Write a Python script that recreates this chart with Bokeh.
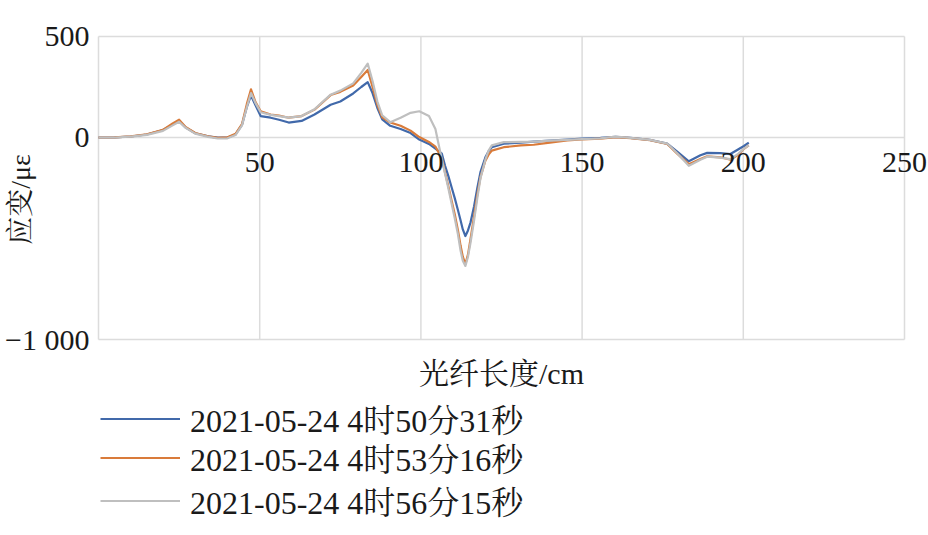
import math
from bokeh.plotting import figure
from bokeh.models import Range1d, Label, Legend, LegendItem
from bokeh.embed import file_html
from bokeh.resources import INLINE

# ---- data ----
x_cm = [0, 5, 10, 15, 20, 23, 25, 27, 30, 34, 37, 40, 42.5, 44.5, 46, 47.3, 48.7, 50.3,
        53.4, 56, 59, 63, 67, 72, 75, 79, 81.5, 83.5, 85, 86.5, 88, 90.5, 93.7, 96.8,
        99.5, 102.5, 104.5, 106.5, 107.5, 108.5, 109.5, 110.5, 111.5, 112.3, 113, 113.8,
        114.6, 115.4, 116.5, 117.5, 118.5, 120, 121, 122,
        125.7, 131, 135, 140, 145.4, 150, 155.7, 160.4, 165, 171, 176.4, 179.5, 183.1,
        186.7, 188.8, 192.9, 196, 198.5, 200.2, 201.7]

s1 = [0, 1, 5, 15, 37, 65, 82, 50, 21, 6, -1, 0, 15, 62, 150, 208, 160, 106,
      98, 88, 74, 82, 114, 162, 178, 218, 250, 274, 220, 146, 90, 58, 42, 22,
      -10, -32, -55, -80, -140, -190, -245, -300, -360, -410, -455, -488,
      -460, -420, -340, -250, -170, -98, -68, -48,
      -31, -25, -20, -15, -10, -5, -2, 3, -2, -12, -30, -70, -118,
      -88, -76, -77, -82, -58, -42, -25]

s2 = [0, 1, 6, 16, 38, 70, 88, 52, 22, 6, -2, 1, 18, 66, 165, 238, 175, 130,
      114, 108, 98, 106, 138, 210, 226, 257, 300, 334, 250, 162, 100, 74, 58, 34,
      2, -22, -45, -105, -175, -240, -310, -380, -460, -535, -590, -627,
      -580, -501, -390, -283, -195, -115, -85, -65,
      -48, -39, -36, -25, -14, -10, -6, 2, -3, -13, -32, -80, -132,
      -107, -93, -98, -110, -85, -56, -39]

s3 = [0, 0, 4, 13, 33, 60, 78, 48, 19, 3, -5, -4, 12, 60, 150, 220, 170, 125,
      112, 106, 98, 106, 140, 212, 232, 268, 320, 366, 280, 178, 110, 76, 98, 122,
      130, 106, 42, -110, -180, -250, -325, -400, -480, -560, -610, -636,
      -590, -520, -410, -300, -200, -110, -65, -39,
      -23, -22, -20, -15, -12, -8, -4, 4, -2, -12, -30, -78, -140,
      -110, -95, -100, -107, -80, -55, -39]

series_names = ["2021-05-24 4时50分31秒", "2021-05-24 4时53分16秒", "2021-05-24 4时56分15秒"]
series_colors = ["#4169aa", "#d97b3a", "#bfbfbf"]

x_ticks = [0, 50, 100, 150, 200, 250]
x_tick_labels = ["", "50", "100", "150", "200", "250"]
y_ticks = [500, 0, -1000]
y_tick_labels = ["500", "0", "−1 000"]

x_title = "光纤长度/cm"
y_title = "应变/με"

FONT = "'Liberation Serif', 'Noto Serif CJK SC', 'Noto Sans CJK SC', serif"
GRID = "#dcdcdc"
TXT = "#1a1a1a"

# ---- layout: the whole canvas is the frame; the plot box is a sub-region ----
W, H = 928, 535
box_l, box_r, box_t, box_b = 98, 904, 36, 339      # plot box in canvas pixels
x0, x1 = x_ticks[0], x_ticks[-1]
y0, y1 = min(y_ticks), max(y_ticks)
kx = (box_r - box_l) / (x1 - x0)
ky = (box_b - box_t) / (y1 - y0)
xr = Range1d(x0 - box_l / kx, x1 + (W - box_r) / kx)
yr = Range1d(y0 - (H - box_b) / ky, y1 + box_t / ky)

p = figure(width=W, height=H, output_backend="svg", toolbar_location=None,
           x_range=xr, y_range=yr, x_axis_location=None, y_axis_location=None,
           min_border=0, min_border_left=0, min_border_right=0,
           min_border_top=0, min_border_bottom=0)
p.outline_line_color = None
p.background_fill_color = "white"
p.border_fill_color = "white"
p.center = []

# gridlines (bounded to the plot box)
p.segment(x0=x_ticks, y0=[y0] * len(x_ticks), x1=x_ticks, y1=[y1] * len(x_ticks),
          line_color=GRID, line_width=1.5)
p.segment(x0=[x0] * len(y_ticks), y0=y_ticks, x1=[x1] * len(y_ticks), y1=y_ticks,
          line_color=GRID, line_width=1.5)

renderers = []
for ys, c in zip([s1, s2, s3], series_colors):
    r = p.line(x_cm, ys, line_color=c, line_width=2.2, line_join="round")
    renderers.append(r)

# tick labels
for t, lab in zip(x_ticks, x_tick_labels):
    if lab:
        p.add_layout(Label(x=t, y=0, y_offset=-25, text=lab, text_align="center",
                           text_baseline="middle", text_font=FONT,
                           text_font_size="30px", text_color=TXT))
for t, lab in zip(y_ticks, y_tick_labels):
    p.add_layout(Label(x=x0, y=t, x_offset=-9, text=lab, text_align="right",
                       text_baseline="middle", text_font=FONT,
                       text_font_size="30px", text_color=TXT))

# axis titles
p.add_layout(Label(x=(x0 + x1) / 2, y=y0, y_offset=-34, text=x_title, text_align="center",
                   text_baseline="middle", text_font=FONT, text_font_size="30px",
                   text_color=TXT))
p.add_layout(Label(x=x0, y=y0, x_offset=-78, y_offset=140, text=y_title, angle=math.pi / 2,
                   text_align="center", text_baseline="middle", text_font=FONT,
                   text_font_size="28px", text_color=TXT))

# legend: one entry per row, rows ~39 px apart
row_locs = [94, 55, 12]
for n, r, ly in zip(series_names, renderers, row_locs):
    lg = Legend(items=[LegendItem(label=n, renderers=[r])],
                location=(100, ly), orientation="vertical",
                glyph_width=80, glyph_height=39, label_height=39, label_standoff=10,
                spacing=0, padding=0, margin=0,
                label_text_font=FONT, label_text_font_size="32px", label_text_color=TXT,
                border_line_color=None, background_fill_alpha=0)
    p.add_layout(lg, "center")

open("out.html", "w").write(file_html(p, INLINE))
